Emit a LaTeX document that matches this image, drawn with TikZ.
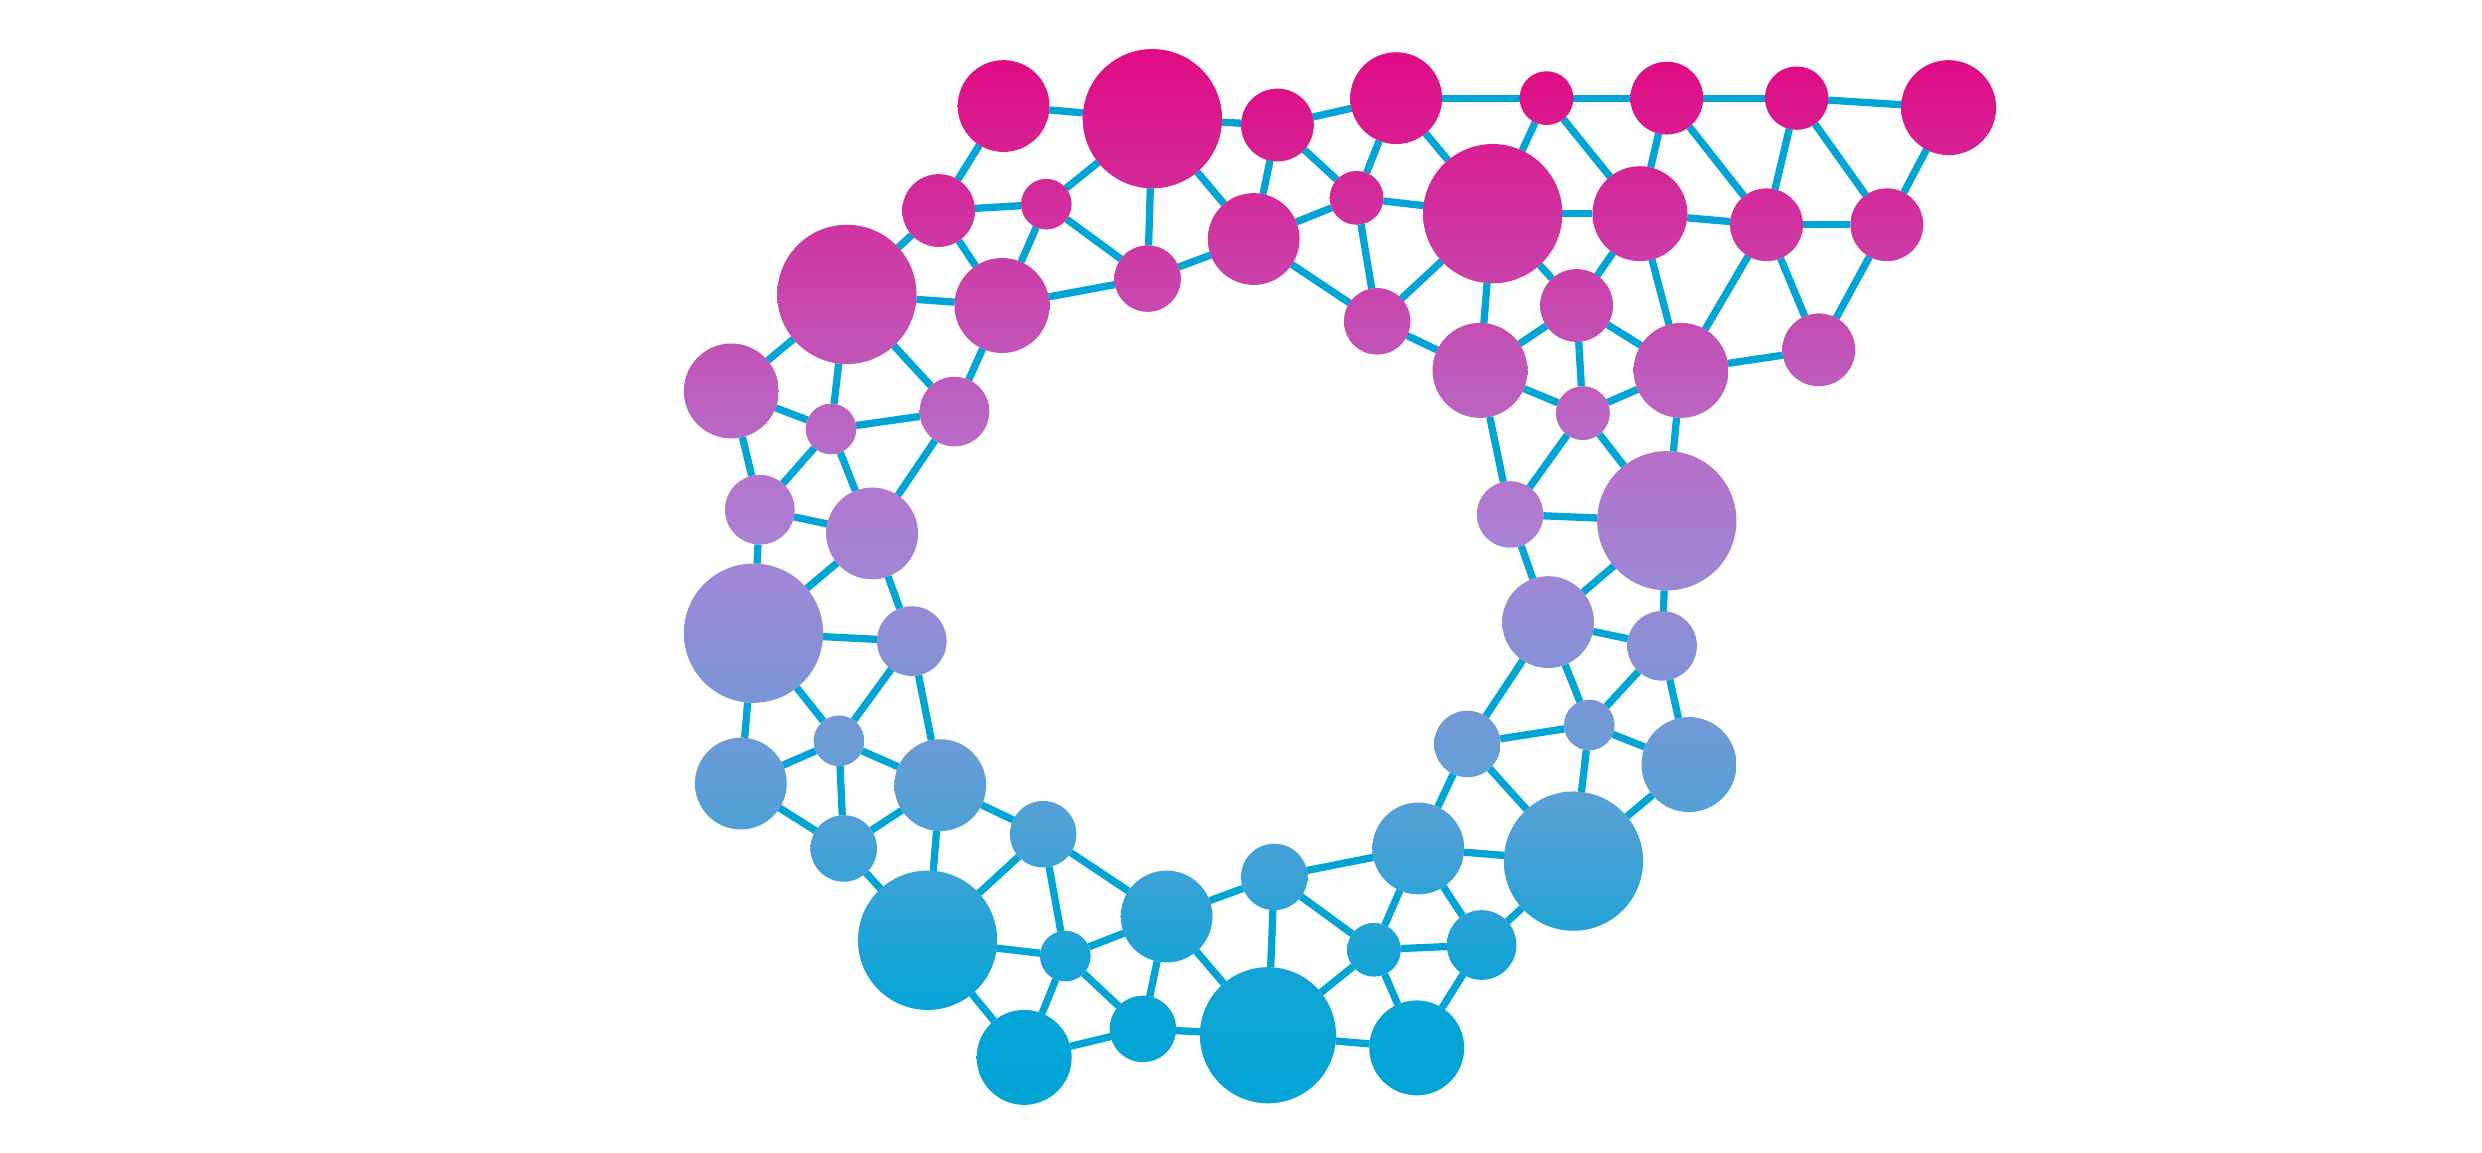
\documentclass[tikz,border=0pt]{standalone}
\usepackage{xcolor}
\usepackage{tikz}
\usetikzlibrary{backgrounds}
\definecolor{NetMagenta}{RGB}{224, 11, 132}
\definecolor{NetPurple}{RGB}{176, 128, 214}
\definecolor{NetSky}{RGB}{95, 160, 214}
\definecolor{NetBlue}{RGB}{2, 164, 214}
\definecolor{NetCyan}{RGB}{0, 165, 214}

% colour of the vertical gradient at height #2
\newcommand{\gradcol}[2]{%
  \pgfmathsetmacro\gmixa{min(100,max(0,(330-#2)/2.86))}%
  \pgfmathsetmacro\gmixb{min(100,max(0,(495-#2)/1.65))}%
  \pgfmathsetmacro\gmixc{min(100,max(0,(640-#2)/1.45))}%
  \ifdim #2pt<330pt \colorlet{#1}{NetMagenta!\gmixa!NetPurple}%
  \else\ifdim #2pt<495pt \colorlet{#1}{NetPurple!\gmixb!NetSky}%
  \else \colorlet{#1}{NetSky!\gmixc!NetBlue}\fi\fi}

\tikzset{
  bubble/.style={circle, inner sep=0pt, outer sep=0pt, draw=none},
  link/.style={draw=NetCyan, line width=4.6pt}
}

\begin{document}
\begin{tikzpicture}[x=1pt,y=-1pt]
  \path[use as bounding box] (0,0) rectangle (1568,728);

  % Nodes
  \foreach \n/\x/\y/\r in {
    1/634/67/29, 2/728/75/44, 3/807/79/23, 4/882/62/29, 5/977/62/17,
    6/1053/62/23, 7/1135/62/20, 8/1231/68/30,
    9/593/133/23, 10/661/129/16, 11/857/125/17, 12/943/135/44,
    13/1036/135/30, 14/1116/142/23, 15/1192/142/23,
    16/535/186/44, 17/633/193/30, 18/725/176/21, 19/792/151/29,
    20/870/203/21, 21/996/193/23,
    22/462/247/30, 23/525/271/16, 24/603/260/22, 25/935/234/30,
    26/1000/261/17, 27/1062/234/30, 28/1149/221/23,
    29/480/322/22, 30/551/337/29, 31/954/325/21, 32/1053/329/44,
    33/476/400/44, 34/576/405/22, 35/978/393/29, 36/1050/408/22,
    37/530/468/16, 38/468/495/29, 39/594/496/29, 40/927/470/21,
    41/1004/458/16, 42/1067/483/30,
    43/533/536/21, 44/659/527/21, 45/896/536/29, 46/994/544/44,
    47/805/554/21, 48/737/579/29, 49/586/594/44, 50/673/604/16,
    51/868/600/17, 52/936/597/22,
    53/647/668/30, 54/722/650/21, 55/801/654/43, 56/895/662/30}{
    \pgfmathsetmacro\ytop{\y-\r}
    \pgfmathsetmacro\ybot{\y+\r}
    \pgfmathsetmacro\dia{2*\r}
    \gradcol{bubtop}{\ytop}
    \gradcol{bubbot}{\ybot}
    \node[bubble, minimum size=\dia pt, top color=bubtop, bottom color=bubbot] (n\n) at (\x,\y) {};
  }

  % Links
  \begin{scope}[on background layer]
    \fill[white] (0,0) rectangle (1568,728);
    \foreach \a/\b in {
      1/2, 2/3, 3/4, 4/5, 5/6, 6/7, 7/8,
      1/9, 9/10, 2/10, 2/18, 10/18, 10/17, 9/17, 9/16,
      3/19, 2/19, 3/11, 4/11, 11/19, 11/12, 4/12, 5/12, 5/13, 6/13,
      6/14, 7/14, 7/15, 8/15,
      12/13, 13/14, 14/15, 14/27, 14/28, 15/28, 13/21, 13/27, 12/21,
      12/20, 12/25, 11/20, 19/20, 18/19, 17/18, 16/17,
      16/22, 16/23, 16/24, 17/24, 22/23, 23/24, 22/29, 23/29, 23/30,
      24/30, 29/30, 29/33, 30/33, 30/34, 33/34,
      33/37, 34/37, 34/39, 33/38, 37/38, 37/39, 37/43, 38/43, 39/43,
      39/44, 39/49, 43/49, 44/49, 44/50, 44/48,
      49/50, 49/53, 50/53, 50/48, 50/54, 53/54, 48/54, 48/47, 48/55,
      54/55, 47/55, 47/51, 47/45, 51/55, 51/45, 51/52, 51/56, 55/56,
      52/56, 52/45, 52/46, 45/46, 45/40, 40/46, 40/41, 40/35, 41/35,
      41/36, 41/46, 41/42, 42/46, 42/36, 35/36, 35/32, 36/32, 35/31,
      31/32, 31/26, 31/25, 32/26, 32/27, 25/26, 26/27, 26/21, 25/21,
      25/20, 21/27, 27/28}{
      \draw[link] (n\a) -- (n\b);
    }
  \end{scope}
\end{tikzpicture}
\end{document}
